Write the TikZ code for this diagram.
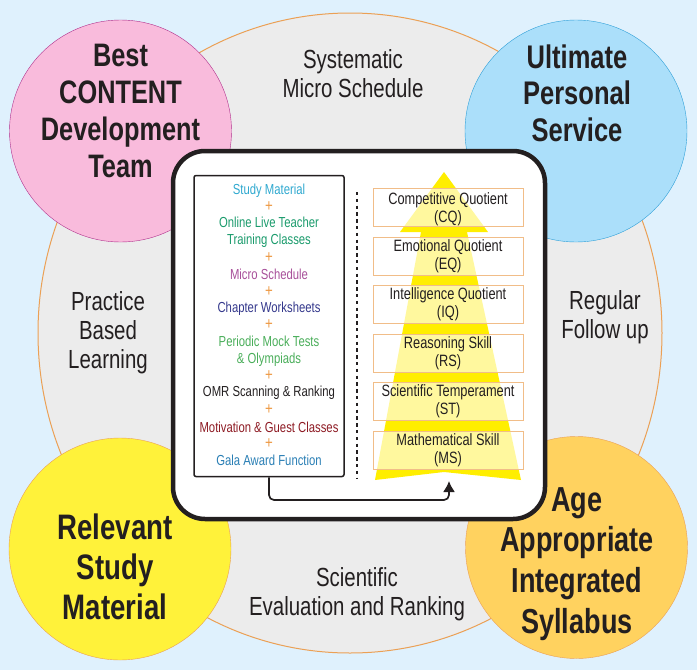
\documentclass[tikz,border=0pt]{standalone}
\usepackage{fontspec}
\setmainfont{Liberation Sans}[FakeStretch=0.78]
\usetikzlibrary{positioning,arrows.meta,shapes.geometric}
\definecolor{bgblue}{HTML}{DFF1FD}
\definecolor{ringgrey}{HTML}{ECECEC}
\definecolor{ringline}{HTML}{EBA055}
\definecolor{arrowyellow}{HTML}{FFEE00}
\definecolor{plusorange}{HTML}{EE9A45}
\definecolor{inkblack}{HTML}{231F20}
\definecolor{contentfill}{HTML}{F9BBDC}
\definecolor{contentline}{HTML}{B0308C}
\definecolor{servicefill}{HTML}{ABDFFA}
\definecolor{serviceline}{HTML}{2FA0D8}
\definecolor{materialfill}{HTML}{FFF23A}
\definecolor{syllabusfill}{HTML}{FFD25F}
\definecolor{studycol}{HTML}{2FA9D0}
\definecolor{onlinecol}{HTML}{1A9B6C}
\definecolor{microcol}{HTML}{A8509A}
\definecolor{chaptercol}{HTML}{34388C}
\definecolor{mockcol}{HTML}{4AAE5A}
\definecolor{motivcol}{HTML}{8E1B24}
\definecolor{galacol}{HTML}{2A7FB5}
\tikzstyle{circ}=[shape=circle,minimum size=222pt,inner sep=0pt]
\tikzstyle{circtext}=[inner sep=0pt,align=center,text=inkblack]
\tikzstyle{ringtext}=[inner sep=0pt,align=center,font=\fontsize{26.2}{29}\selectfont,text=inkblack]
\tikzstyle{item}=[inner sep=0pt,align=center,font=\fontsize{14.5}{16.8}\selectfont]
\tikzstyle{plus}=[inner sep=0pt,font=\fontsize{17}{17}\selectfont,text=plusorange]
\tikzstyle{qbox}=[draw=ringline!70,fill=white,fill opacity=0.62,text opacity=1,minimum width=150pt,minimum height=38pt,inner sep=0pt,align=center,font=\fontsize{16.4}{18.4}\selectfont,text=inkblack]
\begin{document}
\begin{tikzpicture}[x=1pt,y=-1pt]
\useasboundingbox (0,0) rectangle (697,670);
\fill[bgblue] (0,0) rectangle (697,670);
% big ring behind everything
\node (ring) at (350,333) [ellipse,draw=ringline,fill=ringgrey,line width=1pt,inner sep=0pt,minimum width=624pt,minimum height=640pt] {};
% corner circles
\node (content) at (120.5,131) [circ,draw=contentline,fill=contentfill] {};
\node (service) at (576,131) [circ,draw=serviceline,fill=servicefill] {};
\node (material) at (120,549) [circ,draw=ringline,fill=materialfill] {};
\node (syllabus) at (576.5,547.5) [circ,draw=ringline,fill=syllabusfill] {};
\node (contentlabel) at (120.5,111) [circtext,font=\fontsize{32.5}{37.3}\selectfont\bfseries] {Best\\CONTENT\\Development\\Team};
\node (servicelabel) at (577,93) [circtext,font=\fontsize{32.7}{36.5}\selectfont\bfseries] {Ultimate\\Personal\\Service};
\node (materiallabel) at (115,567) [circtext,font=\fontsize{35.4}{40}\selectfont\bfseries] {Relevant\\Study\\Material};
\node (syllabuslabel) at (577,564) [circtext,font=\fontsize{34.7}{40.7}\selectfont\bfseries] {Age\\Appropriate\\Integrated\\Syllabus};
% words on the ring
\node (sched) at (353,74) [ringtext] {Systematic\\Micro Schedule};
\node (practice) at (108,332.5) [ringtext] {Practice\\Based\\Learning};
\node (follow) at (605,317) [ringtext] {Regular\\Follow up};
\node (eval) at (357,594) [ringtext] {Scientific\\Evaluation and Ranking};
% centre panel
\node (panel) at (359,335) [draw=inkblack,fill=white,line width=4.5pt,rounded corners=32pt,minimum width=372pt,minimum height=368pt] {};
\node (listbox) at (269,326) [draw=inkblack,fill=white,line width=1.5pt,rounded corners=2pt,minimum width=150pt,minimum height=301pt] {};
\draw[line width=2.6pt,dash pattern=on 3.4pt off 3.4pt,inkblack] (357,192) -- (357,478);
% yellow arrow
\fill[arrowyellow] (375,480) -- (421,232) -- (400,232) -- (444,172) -- (488,232) -- (467,232) -- (521,480) -- (444,472) -- cycle;
% left list
\node (study) at (269,190.5) [item,text=studycol] {Study Material};
\node (p1) at (269,207) [plus] {+};
\node (online) at (269,232) [item,text=onlinecol] {Online Live Teacher\\Training Classes};
\node (p2) at (269,258) [plus] {+};
\node (micro) at (269,274) [item,text=microcol] {Micro Schedule};
\node (p3) at (269,292) [plus] {+};
\node (chapter) at (269,308.5) [item,text=chaptercol] {Chapter Worksheets};
\node (p4) at (269,325) [plus] {+};
\node (mock) at (269,351) [item,text=mockcol] {Periodic Mock Tests\\\& Olympiads};
\node (p5) at (269,376) [plus] {+};
\node (omr) at (269,393) [item,text=inkblack] {OMR Scanning \& Ranking};
\node (p6) at (269,410) [plus] {+};
\node (motiv) at (269,427) [item,text=motivcol] {Motivation \& Guest Classes};
\node (p7) at (269,444) [plus] {+};
\node (gala) at (269,460) [item,text=galacol] {Gala Award Function};
% right boxes
\node (cq) at (448,207.5) [qbox,text depth=0pt] {Competitive Quotient\\(CQ)};
\node (eq) at (448,256) [qbox] {Emotional Quotient\\(EQ)};
\node (iq) at (448,304.5) [qbox] {Intelligence Quotient\\(IQ)};
\node (rs) at (448,353) [qbox] {Reasoning Skill\\(RS)};
\node (st) at (448,401.5) [qbox] {Scientific Temperament\\(ST)};
\node (ms) at (448,450) [qbox] {Mathematical Skill\\(MS)};
\coordinate (bend) at (449,500);
\coordinate (tip) at (449,481);
\draw[line width=1.7pt,inkblack,-{Latex[length=11pt,width=12pt]},rounded corners=5pt] (listbox.south) |- (bend) -- (tip);
\end{tikzpicture}
\end{document}
